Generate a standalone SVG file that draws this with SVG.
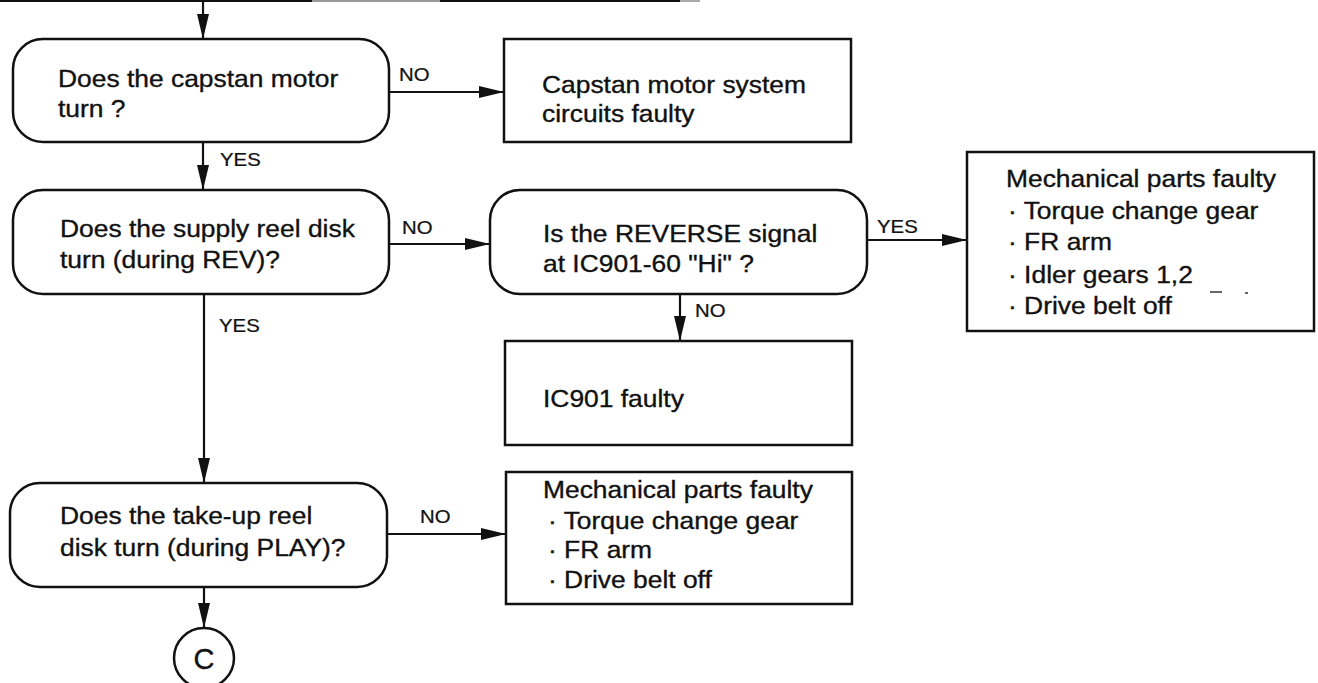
<svg xmlns="http://www.w3.org/2000/svg" width="1318" height="683" viewBox="0 0 1318 683">
<defs>
<marker id="arr" markerUnits="userSpaceOnUse" markerWidth="26" markerHeight="14" refX="25" refY="7" orient="auto">
<path d="M0,1 L25,7 L0,13 z" fill="#111"/>
</marker>
<style>
.n{fill:#fff;stroke:#111;stroke-width:2.5}
.c{fill:none;stroke:#111;stroke-width:2.2}
.t{font-family:"Liberation Sans",Arial,Helvetica,sans-serif;font-size:24px;fill:#111;stroke:#111;stroke-width:0.35}
.l{font-family:"Liberation Sans",Arial,Helvetica,sans-serif;font-size:18.5px;fill:#111;stroke:#111;stroke-width:0.25}
.b{font-size:30px}
</style>
</defs>
<rect width="1318" height="683" fill="#fff"/>
<g id="connectors">
<line x1="0" y1="1" x2="312" y2="1" stroke="#111" stroke-width="2"/>
<line x1="312" y1="1" x2="440" y2="1" stroke="#999" stroke-width="2"/>
<line x1="440" y1="1" x2="680" y2="1" stroke="#111" stroke-width="2"/>
<line x1="680" y1="1" x2="700" y2="1" stroke="#aaa" stroke-width="2"/>
<line class="c" x1="203" y1="1" x2="203" y2="39" marker-end="url(#arr)"/>
<line class="c" x1="389" y1="92" x2="504" y2="92" marker-end="url(#arr)"/>
<line class="c" x1="203" y1="142" x2="203" y2="190" marker-end="url(#arr)"/>
<line class="c" x1="389" y1="244" x2="490" y2="244" marker-end="url(#arr)"/>
<line class="c" x1="867" y1="240" x2="967" y2="240" marker-end="url(#arr)"/>
<line class="c" x1="680" y1="294" x2="680" y2="341" marker-end="url(#arr)"/>
<line class="c" x1="204" y1="294" x2="204" y2="483" marker-end="url(#arr)"/>
<line class="c" x1="387" y1="534" x2="506" y2="534" marker-end="url(#arr)"/>
<line class="c" x1="204" y1="587" x2="204" y2="628" marker-end="url(#arr)"/>
<text class="l" transform="matrix(1.1,0,0,1,399,81)">NO</text>
<text class="l" transform="matrix(1.1,0,0,1,220,166)">YES</text>
<text class="l" transform="matrix(1.1,0,0,1,402,234)">NO</text>
<text class="l" transform="matrix(1.1,0,0,1,877,233)">YES</text>
<text class="l" transform="matrix(1.1,0,0,1,695,317)">NO</text>
<text class="l" transform="matrix(1.1,0,0,1,219,332)">YES</text>
<text class="l" transform="matrix(1.1,0,0,1,420,523)">NO</text>
</g>
<g id="q-capstan">
<rect class="n" x="13" y="39" width="376" height="103" rx="30"/>
<text class="t" transform="matrix(1.1,0,0,1,58,87)">Does the capstan motor</text>
<text class="t" transform="matrix(1.1,0,0,1,58,117)">turn ?</text>
</g>
<g id="r-capstan">
<rect class="n" x="504" y="39" width="347" height="103"/>
<text class="t" transform="matrix(1.1,0,0,1,542,93)">Capstan motor system</text>
<text class="t" transform="matrix(1.1,0,0,1,542,122)">circuits faulty</text>
</g>
<g id="q-supply">
<rect class="n" x="13" y="190" width="376" height="104" rx="30"/>
<text class="t" transform="matrix(1.1,0,0,1,60,237)">Does the supply reel disk</text>
<text class="t" transform="matrix(1.1,0,0,1,60,268)">turn (during REV)?</text>
</g>
<g id="q-reverse">
<rect class="n" x="490" y="190" width="377" height="104" rx="30"/>
<text class="t" transform="matrix(1.1,0,0,1,543,242)">Is the REVERSE signal</text>
<text class="t" transform="matrix(1.1,0,0,1,543,272)">at IC901-60 "Hi" ?</text>
</g>
<g id="r-mech1">
<rect class="n" x="967" y="152" width="347" height="179"/>
<text class="t" transform="matrix(1.1,0,0,1,1006,187)">Mechanical parts faulty</text>
<text class="t" transform="matrix(1.1,0,0,1,1008,219)">· Torque change gear</text>
<text class="t" transform="matrix(1.1,0,0,1,1008,250)">· FR arm</text>
<text class="t" transform="matrix(1.1,0,0,1,1008,283)">· Idler gears 1,2</text>
<text class="t" transform="matrix(1.1,0,0,1,1008,314)">· Drive belt off</text>
<line x1="1210" y1="292" x2="1222" y2="292" stroke="#333" stroke-width="1.5"/>
<line x1="1245" y1="293" x2="1248" y2="293" stroke="#333" stroke-width="1.5"/>
</g>
<g id="r-ic901">
<rect class="n" x="505" y="341" width="347" height="104"/>
<text class="t" transform="matrix(1.1,0,0,1,543,407)">IC901 faulty</text>
</g>
<g id="q-takeup">
<rect class="n" x="10" y="483" width="377" height="104" rx="30"/>
<text class="t" transform="matrix(1.1,0,0,1,60,524)">Does the take-up reel</text>
<text class="t" transform="matrix(1.1,0,0,1,60,556)">disk turn (during PLAY)?</text>
</g>
<g id="r-mech2">
<rect class="n" x="506" y="472" width="346" height="132"/>
<text class="t" transform="matrix(1.1,0,0,1,543,498)">Mechanical parts faulty</text>
<text class="t" transform="matrix(1.1,0,0,1,548,529)">· Torque change gear</text>
<text class="t" transform="matrix(1.1,0,0,1,548,558)">· FR arm</text>
<text class="t" transform="matrix(1.1,0,0,1,548,588)">· Drive belt off</text>
</g>
<g id="c-connector">
<circle class="n" cx="204" cy="658" r="30"/>
<text class="t" x="204" y="669" text-anchor="middle" style="font-size:29px">C</text>
</g>
</svg>
